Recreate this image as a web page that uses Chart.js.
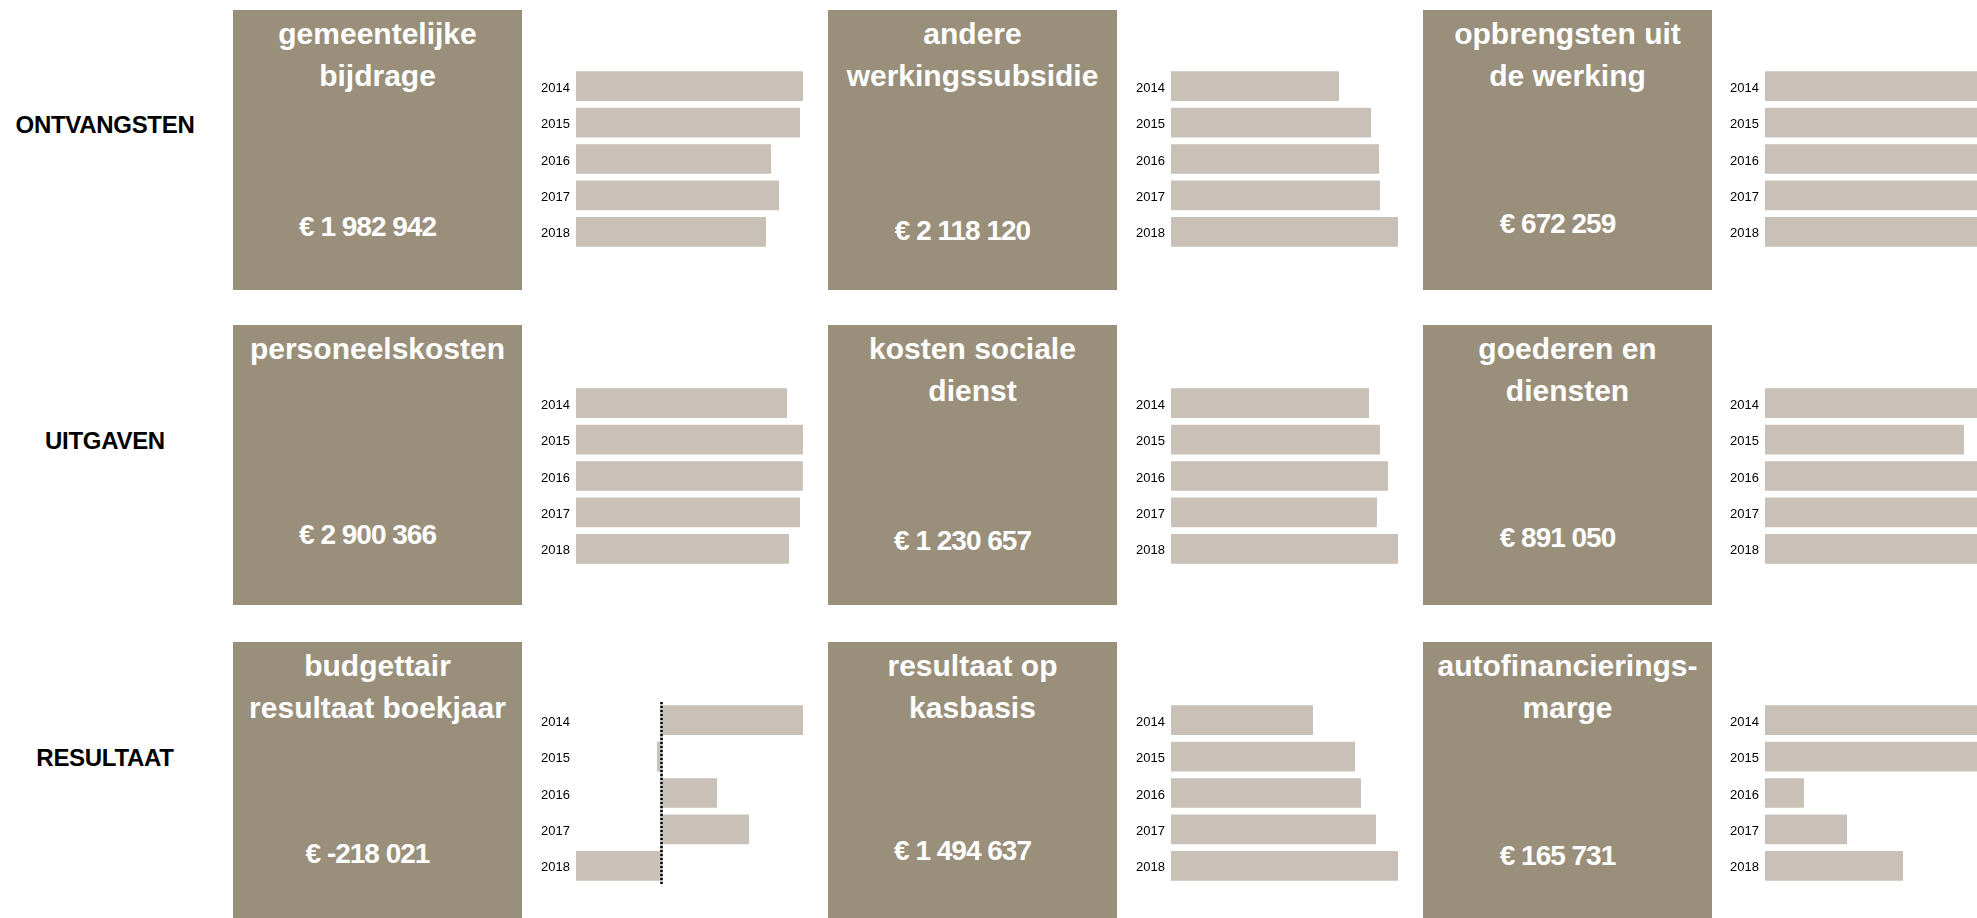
<!DOCTYPE html>
<html lang="nl">
<head>
<meta charset="UTF-8">
<title>Financieel overzicht</title>
<style>
  body {
    margin: 0;
    width: 1977px;
    height: 918px;
    overflow: hidden;
    background: #fff;
    font-family: "Liberation Sans", Arial, sans-serif;
    position: relative;
  }
  .row-label {
    position: absolute;
    width: 210px;
    left: 0;
    text-align: center;
    font-weight: bold;
    font-size: 24px;
    line-height: 30px;
    letter-spacing: -0.3px;
    color: #000;
  }
  .box {
    position: absolute;
    width: 289px;
    height: 280px;
    background: #9a8f7b;
    color: #fff;
    font-weight: bold;
  }
  .box .title {
    padding-top: 3px;
    font-size: 30px;
    line-height: 42px;
    text-align: center;
    white-space: pre;
  }
  .box .total {
    position: absolute;
    left: 0;
    width: 269px;
    font-size: 28px;
    line-height: 34px;
    letter-spacing: -1px;
    text-align: center;
    white-space: nowrap;
  }
  canvas {
    position: absolute;
  }
</style>
</head>
<body>
<script src="https://cdn.jsdelivr.net/npm/chart.js"></script>
<script>
// data
const years = ['2014', '2015', '2016', '2017', '2018'];
const rowLabels = ['ONTVANGSTEN', 'UITGAVEN', 'RESULTAAT'];

const gemeentelijkeBijdrage = [2369100, 2337800, 2035100, 2118600, 1982942];
const andereWerkingssubsidie = [1567600, 1866200, 1940800, 1950200, 2118120];
const opbrengstenWerking = [700000, 684600, 663000, 678400, 672259];
const personeelskosten = [2873000, 3091000, 3089000, 3050000, 2900366];
const kostenSocialeDienst = [1073400, 1133000, 1176400, 1116800, 1230657];
const goederenDiensten = [911200, 798800, 903100, 875000, 891050];
const budgettairResultaat = [364200, -10300, 143600, 225700, -218021];
const resultaatKasbasis = [935000, 1211500, 1251000, 1349700, 1494637];
const autofinancieringsmarge = [272600, 262000, 46800, 98500, 165731];

const titles = [
  'gemeentelijke\nbijdrage', 'andere\nwerkingssubsidie', 'opbrengsten uit\nde werking',
  'personeelskosten', 'kosten sociale\ndienst', 'goederen en\ndiensten',
  'budgettair\nresultaat boekjaar', 'resultaat op\nkasbasis', 'autofinancierings-\nmarge'
];
const totals = [
  '€ 1 982 942', '€ 2 118 120', '€ 672 259',
  '€ 2 900 366', '€ 1 230 657', '€ 891 050',
  '€ -218 021', '€ 1 494 637', '€ 165 731'
];
const series = [
  gemeentelijkeBijdrage, andereWerkingssubsidie, opbrengstenWerking,
  personeelskosten, kostenSocialeDienst, goederenDiensten,
  budgettairResultaat, resultaatKasbasis, autofinancieringsmarge
];

// layout
const boxLeft = [233, 828, 1423];
const boxTop = [10, 325, 642];
const chartLeft = [576, 1171, 1765];
const chartTop = [68, 385, 702];
const chartW = 227, chartH = 182, axisW = 40;
const labelY = [125, 441, 758];
const totalY = [[227, 231, 224], [535, 541, 538], [854, 851, 856]];

const BAR = '#c9c1b7';

// dashed zero line, only when there are negative values
const zeroLine = {
  id: 'zeroLine',
  afterDatasetsDraw(chart) {
    const xs = chart.scales.x;
    if (xs.min >= 0) return;
    const ctx = chart.ctx;
    const px = Math.round(xs.getPixelForValue(0)) + 0.5;
    const { top, bottom } = chart.chartArea;
    ctx.save();
    ctx.lineWidth = 2.5;
    ctx.strokeStyle = '#b8b8b8';
    ctx.beginPath(); ctx.moveTo(px, top); ctx.lineTo(px, bottom); ctx.stroke();
    ctx.setLineDash([2, 2]);
    ctx.strokeStyle = '#000';
    ctx.beginPath(); ctx.moveTo(px, top); ctx.lineTo(px, bottom); ctx.stroke();
    ctx.restore();
  }
};

rowLabels.forEach((txt, r) => {
  const d = document.createElement('div');
  d.className = 'row-label';
  d.style.top = (labelY[r] - 15) + 'px';
  d.textContent = txt;
  document.body.appendChild(d);
});

for (let r = 0; r < 3; r++) {
  for (let c = 0; c < 3; c++) {
    const i = r * 3 + c;
    const box = document.createElement('div');
    box.className = 'box';
    box.style.left = boxLeft[c] + 'px';
    box.style.top = boxTop[r] + 'px';

    const t = document.createElement('div');
    t.className = 'title';
    t.textContent = titles[i];
    box.appendChild(t);

    const v = document.createElement('div');
    v.className = 'total';
    v.style.top = (totalY[r][c] - boxTop[r] - 17) + 'px';
    v.textContent = totals[i];
    box.appendChild(v);
    document.body.appendChild(box);

    const canvas = document.createElement('canvas');
    canvas.width = chartW + axisW;
    canvas.height = chartH;
    canvas.style.left = (chartLeft[c] - axisW) + 'px';
    canvas.style.top = chartTop[r] + 'px';
    canvas.style.width = (chartW + axisW) + 'px';
    canvas.style.height = chartH + 'px';
    document.body.appendChild(canvas);

    const values = series[i];
    new Chart(canvas, {
      type: 'bar',
      data: {
        labels: years,
        datasets: [{
          data: values,
          backgroundColor: BAR,
          borderWidth: 0,
          barPercentage: 0.815,
          categoryPercentage: 1
        }]
      },
      options: {
        indexAxis: 'y',
        responsive: false,
        animation: false,
        layout: { padding: 0 },
        plugins: {
          legend: { display: false },
          tooltip: { enabled: false }
        },
        scales: {
          x: {
            display: false,
            min: Math.min(0, ...values),
            max: Math.max(...values)
          },
          y: {
            grid: { display: false, drawTicks: false },
            border: { display: false },
            ticks: {
              color: '#000',
              padding: 6,
              labelOffset: 2,
              font: { family: '"Liberation Sans", Arial, sans-serif', size: 13 }
            },
            afterFit: s => {
              s.width = axisW;
              s.paddingTop = 0;
              s.paddingBottom = 0;
            }
          }
        }
      },
      plugins: [zeroLine]
    });
  }
}
</script>
</body>
</html>
